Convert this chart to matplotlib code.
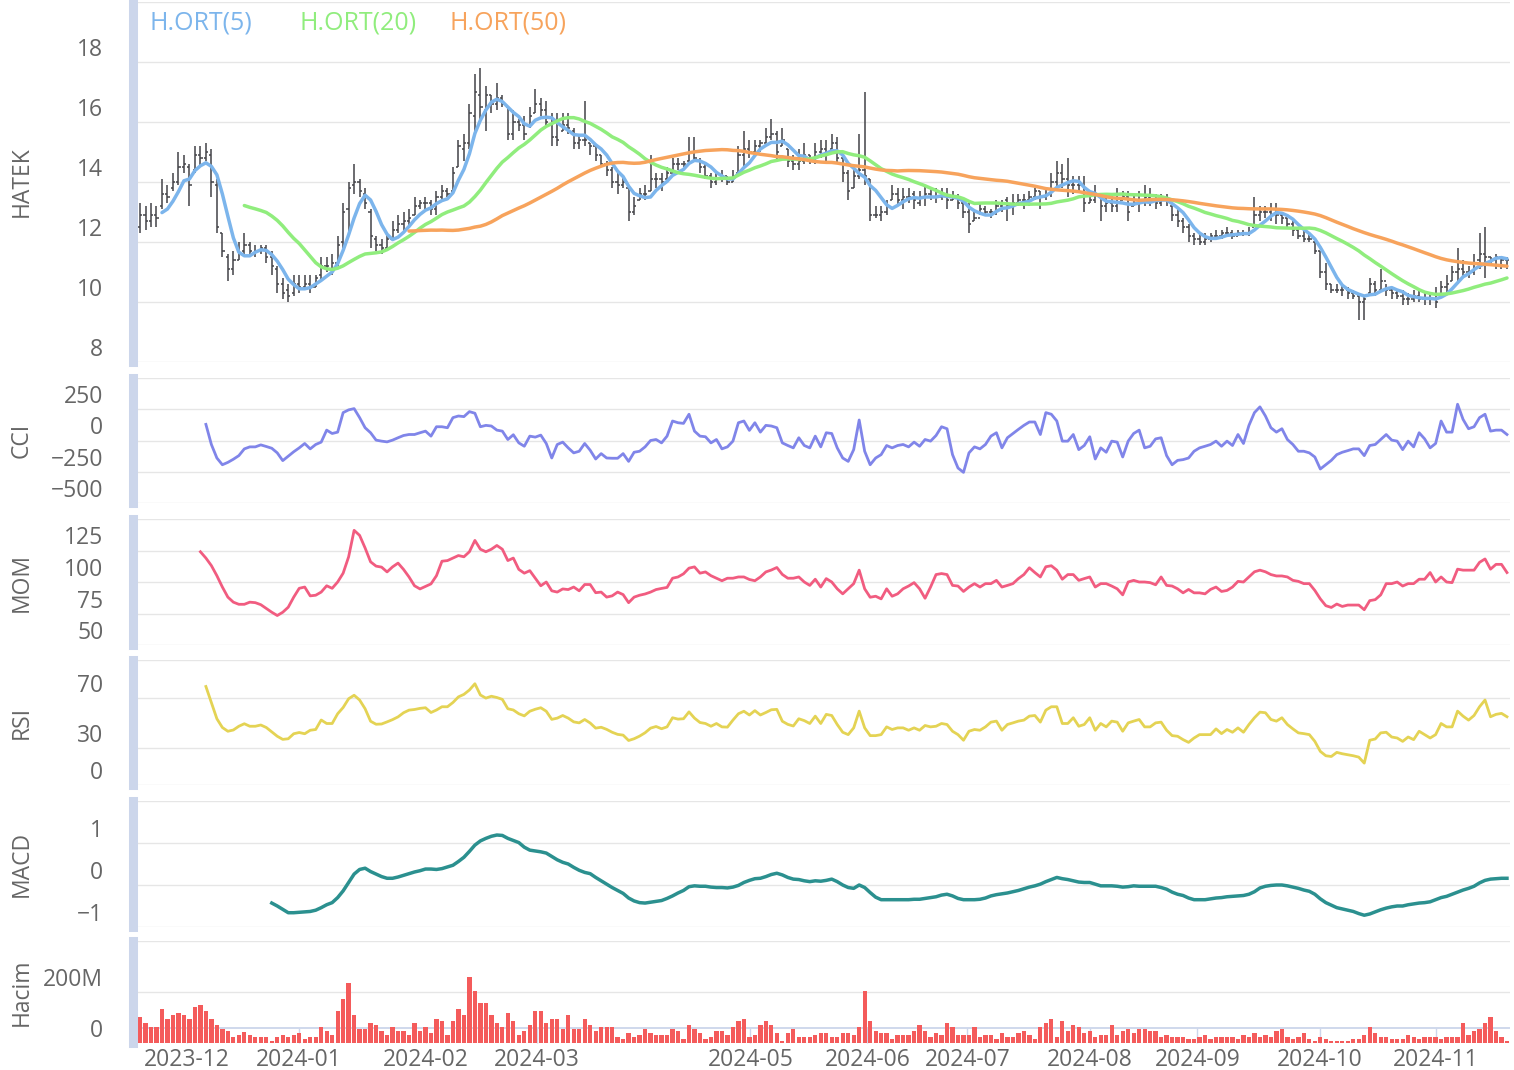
import numpy as np
import pandas as pd
import matplotlib
matplotlib.use('Agg')
import matplotlib.pyplot as plt

plt.rcParams['font.family'] = ['Open Sans', 'DejaVu Sans']

# ---- daily OHLC, index 0 = first trading day shown (late Nov 2023) ----
opens = [
    12.5, 12.9, 12.7, 12.9, 13.2, 13.6, 13.8, 14.0, 14.5, 14.5,
    14.4, 14.9, 14.8, 14.9, 13.9, 12.3, 11.5, 11.1, 11.4, 11.7,
    11.9, 11.6, 11.7, 11.8, 11.5, 11.1, 10.6, 10.4, 10.3, 10.6,
    10.5, 10.6, 10.5, 10.9, 11.2, 11.1, 11.3, 12.0, 13.1, 13.9,
    14.0, 13.6, 13.0, 12.1, 11.9, 11.8, 12.1, 12.4, 12.6, 12.7,
    12.9, 13.2, 13.3, 13.3, 13.1, 13.5, 13.7, 13.7, 14.5, 15.1,
    15.3, 16.2, 16.9, 16.4, 16.9, 16.6, 16.8, 16.5, 15.6, 16.0,
    15.9, 15.9, 16.3, 16.6, 16.4, 15.9, 15.5, 15.7, 15.9, 15.7,
    15.3, 15.4, 15.3, 15.2, 14.9, 14.6, 14.4, 14.0, 13.9, 13.8,
    13.0, 13.4, 13.6, 13.7, 14.1, 14.1, 14.1, 14.3, 14.6, 14.6,
    14.7, 15.0, 14.7, 14.5, 14.2, 14.0, 14.1, 14.2, 14.0, 14.3,
    14.9, 15.1, 15.0, 15.2, 15.3, 15.5, 15.6, 15.2, 15.1, 14.7,
    14.6, 14.7, 14.9, 14.8, 15.0, 15.1, 15.1, 15.3, 14.8, 14.3,
    13.8, 14.2, 14.4, 14.1, 12.9, 12.9, 13.0, 13.4, 13.6, 13.4,
    13.5, 13.6, 13.3, 13.5, 13.6, 13.5, 13.5, 13.6, 13.4, 13.5,
    13.3, 13.0, 12.7, 12.8, 13.1, 13.0, 13.0, 13.2, 13.4, 13.2,
    13.3, 13.4, 13.4, 13.5, 13.7, 13.5, 13.6, 14.0, 14.3, 14.1,
    13.9, 13.9, 13.9, 13.3, 13.4, 13.6, 13.2, 13.3, 13.2, 13.4,
    13.5, 13.2, 13.3, 13.4, 13.5, 13.4, 13.3, 13.4, 13.2, 12.9,
    12.7, 12.5, 12.2, 12.1, 12.0, 12.1, 12.2, 12.2, 12.3, 12.3,
    12.2, 12.3, 12.3, 12.5, 12.9, 13.0, 13.0, 13.1, 12.9, 12.8,
    12.6, 12.4, 12.2, 12.1, 12.0, 11.7, 11.0, 10.6, 10.4, 10.4,
    10.4, 10.3, 10.2, 10.0, 10.3, 10.6, 10.4, 10.7, 10.4, 10.3,
    10.2, 10.1, 10.1, 10.2, 10.1, 10.1, 10.1, 10.2, 10.5, 10.7,
    11.0, 11.1, 11.0, 11.0, 11.4, 11.6, 11.5, 11.4, 11.5, 11.4,
]
highs = [
    13.3, 13.2, 13.3, 13.2, 14.1, 13.9, 14.3, 15.0, 14.9, 14.6,
    15.2, 15.2, 15.3, 15.1, 14.1, 12.3, 11.6, 11.7, 12.0, 12.3,
    12.0, 11.9, 11.9, 11.9, 11.7, 11.2, 10.8, 10.6, 10.9, 10.9,
    10.9, 10.9, 10.9, 11.5, 11.5, 11.6, 12.2, 13.3, 14.0, 14.6,
    14.1, 13.8, 13.1, 12.2, 12.1, 12.3, 12.7, 12.9, 13.0, 13.1,
    13.5, 13.4, 13.5, 13.4, 13.7, 13.9, 13.8, 14.5, 15.4, 15.6,
    16.6, 17.6, 17.8, 17.2, 16.9, 17.3, 16.9, 16.5, 16.4, 16.1,
    16.2, 16.5, 17.1, 16.8, 16.7, 16.3, 16.3, 16.3, 16.3, 15.8,
    15.6, 16.7, 15.3, 15.2, 14.9, 14.7, 14.5, 14.4, 14.2, 13.8,
    13.5, 13.8, 13.9, 14.9, 14.3, 14.3, 14.5, 14.8, 14.8, 14.7,
    15.5, 15.5, 14.8, 14.6, 14.3, 14.3, 14.4, 14.2, 14.4, 15.2,
    15.7, 15.4, 15.4, 15.4, 15.8, 16.1, 15.7, 15.8, 15.1, 14.9,
    15.1, 15.3, 14.9, 15.3, 15.4, 15.4, 15.6, 15.5, 14.9, 14.4,
    14.4, 15.6, 17.0, 14.1, 13.2, 13.2, 13.4, 13.9, 13.8, 13.8,
    13.8, 13.7, 13.7, 13.9, 13.8, 13.8, 13.8, 13.8, 13.7, 13.6,
    13.4, 13.3, 13.1, 13.3, 13.2, 13.1, 13.4, 13.4, 13.5, 13.6,
    13.6, 13.6, 13.7, 13.8, 13.7, 13.8, 14.3, 14.7, 14.6, 14.8,
    14.2, 14.2, 14.2, 13.6, 13.9, 13.6, 13.6, 13.6, 13.8, 13.7,
    13.7, 13.6, 13.7, 13.9, 13.8, 13.6, 13.6, 13.6, 13.2, 13.1,
    12.8, 12.6, 12.3, 12.3, 12.3, 12.3, 12.4, 12.4, 12.5, 12.4,
    12.4, 12.4, 12.5, 13.5, 13.2, 13.2, 13.3, 13.3, 12.9, 12.8,
    12.7, 12.5, 12.5, 12.3, 12.1, 11.7, 11.3, 10.6, 10.6, 10.6,
    10.5, 10.4, 10.2, 10.2, 10.8, 10.7, 11.1, 10.6, 10.5, 10.4,
    10.4, 10.3, 10.4, 10.4, 10.3, 10.3, 10.5, 10.7, 10.9, 11.2,
    11.8, 11.4, 11.2, 11.6, 12.3, 12.5, 11.5, 11.6, 11.5, 11.5,
]
lows = [
    12.3, 12.4, 12.5, 12.5, 13.1, 13.3, 13.7, 13.9, 14.3, 13.2,
    14.3, 14.5, 14.7, 13.5, 12.3, 11.5, 10.7, 10.9, 11.4, 11.6,
    11.5, 11.5, 11.6, 11.3, 10.9, 10.3, 10.1, 10.0, 10.2, 10.3,
    10.4, 10.3, 10.5, 10.7, 11.0, 10.9, 11.2, 11.8, 12.2, 13.6,
    13.5, 13.1, 11.8, 11.7, 11.6, 11.7, 12.1, 12.3, 12.3, 12.5,
    12.9, 13.1, 13.1, 12.9, 12.9, 13.4, 13.5, 13.7, 14.5, 14.7,
    15.1, 15.7, 16.1, 15.7, 16.3, 16.4, 16.5, 15.4, 15.4, 15.7,
    15.4, 15.8, 16.3, 16.2, 15.8, 15.2, 15.2, 15.7, 15.6, 15.1,
    15.1, 15.2, 14.9, 14.7, 14.5, 14.2, 13.8, 13.6, 13.8, 12.7,
    12.9, 13.4, 13.4, 13.7, 13.8, 13.7, 14.1, 14.3, 14.4, 14.5,
    14.6, 14.7, 14.3, 14.1, 13.8, 13.9, 14.0, 13.9, 14.0, 14.2,
    14.5, 14.8, 14.9, 15.0, 15.3, 15.4, 14.7, 15.2, 14.5, 14.4,
    14.4, 14.6, 14.6, 14.6, 14.8, 14.7, 15.1, 14.6, 14.0, 13.4,
    13.8, 14.1, 13.9, 12.7, 12.8, 12.7, 12.9, 13.4, 13.2, 13.1,
    13.3, 13.1, 13.2, 13.2, 13.4, 13.3, 13.4, 13.1, 13.4, 13.1,
    12.8, 12.3, 12.7, 12.9, 12.9, 12.8, 12.9, 13.0, 12.7, 12.9,
    13.2, 13.1, 13.2, 13.4, 13.1, 13.4, 13.5, 13.8, 13.8, 13.5,
    13.6, 13.7, 13.0, 13.3, 13.3, 12.7, 13.0, 13.0, 13.0, 13.4,
    12.7, 13.2, 13.0, 13.2, 13.2, 13.1, 13.2, 13.2, 12.7, 12.5,
    12.3, 12.0, 11.9, 11.9, 11.9, 12.0, 12.1, 12.1, 12.2, 12.1,
    12.2, 12.2, 12.2, 12.5, 12.7, 12.8, 12.7, 12.6, 12.6, 12.5,
    12.2, 12.1, 12.0, 12.0, 11.6, 10.8, 10.4, 10.3, 10.3, 10.2,
    10.1, 10.1, 9.4, 9.4, 10.3, 10.2, 10.4, 10.2, 10.1, 10.1,
    9.9, 9.9, 10.0, 10.0, 9.9, 9.9, 9.8, 10.2, 10.3, 10.7,
    10.6, 10.8, 10.8, 10.9, 11.1, 10.8, 11.2, 11.1, 11.1, 11.1,
]
closes = [
    12.9, 12.7, 12.9, 12.8, 13.6, 13.5, 14.0, 14.5, 14.6, 13.9,
    14.9, 14.8, 15.0, 14.0, 12.5, 11.7, 11.1, 11.4, 11.6, 11.9,
    11.7, 11.7, 11.8, 11.5, 11.2, 10.6, 10.3, 10.2, 10.6, 10.5,
    10.6, 10.5, 10.8, 11.2, 11.2, 11.3, 11.9, 13.0, 13.8, 14.0,
    13.7, 13.3, 12.2, 11.9, 11.8, 12.1, 12.4, 12.6, 12.7, 12.8,
    13.2, 13.3, 13.3, 13.1, 13.5, 13.7, 13.6, 14.3, 15.2, 15.3,
    16.3, 17.0, 16.5, 16.9, 16.6, 16.8, 16.6, 15.6, 16.0, 15.9,
    15.6, 16.2, 16.6, 16.4, 16.0, 15.5, 15.4, 15.9, 15.8, 15.3,
    15.4, 15.4, 15.2, 14.9, 14.6, 14.4, 14.0, 13.9, 14.0, 13.0,
    13.2, 13.6, 13.6, 14.1, 14.1, 14.0, 14.3, 14.6, 14.6, 14.6,
    15.0, 14.8, 14.5, 14.2, 14.0, 14.1, 14.2, 14.0, 14.2, 14.9,
    15.1, 15.0, 15.2, 15.3, 15.5, 15.6, 15.0, 15.4, 14.7, 14.6,
    14.7, 14.9, 14.8, 15.0, 15.1, 15.0, 15.3, 14.8, 14.3, 13.7,
    14.2, 14.4, 14.2, 12.9, 12.9, 13.0, 13.2, 13.6, 13.4, 13.5,
    13.5, 13.4, 13.5, 13.6, 13.5, 13.5, 13.6, 13.4, 13.5, 13.3,
    13.0, 12.6, 12.8, 13.1, 13.0, 13.0, 13.2, 13.3, 13.2, 13.3,
    13.4, 13.4, 13.5, 13.7, 13.5, 13.6, 14.0, 14.3, 14.1, 13.9,
    13.9, 13.9, 13.3, 13.4, 13.6, 13.2, 13.3, 13.2, 13.3, 13.5,
    13.0, 13.3, 13.4, 13.5, 13.4, 13.3, 13.4, 13.4, 12.9, 12.7,
    12.5, 12.2, 12.1, 12.0, 12.1, 12.2, 12.2, 12.3, 12.3, 12.2,
    12.3, 12.3, 12.3, 12.9, 13.0, 13.0, 13.1, 12.9, 12.8, 12.6,
    12.4, 12.2, 12.1, 12.1, 11.7, 11.0, 10.6, 10.4, 10.4, 10.4,
    10.3, 10.2, 10.0, 10.1, 10.6, 10.4, 10.7, 10.4, 10.3, 10.2,
    10.1, 10.1, 10.2, 10.1, 10.1, 10.1, 10.0, 10.5, 10.6, 11.0,
    11.1, 11.0, 11.0, 11.3, 11.6, 11.5, 11.4, 11.5, 11.4, 11.4,
]
# volume in millions
volume_m = [
    103, 77, 64, 64, 133, 94, 110, 116, 110, 94,
    142, 149, 125, 94, 71, 55, 47, 25, 31, 44,
    31, 25, 25, 25, 8, 25, 31, 25, 31, 38,
    16, 25, 25, 63, 47, 31, 125, 173, 235, 110,
    55, 55, 77, 71, 47, 31, 63, 47, 47, 31,
    78, 47, 63, 39, 94, 86, 31, 86, 133, 110,
    259, 204, 157, 157, 110, 78, 63, 118, 86, 31,
    47, 71, 125, 125, 78, 94, 94, 55, 110, 55,
    55, 94, 71, 47, 63, 63, 63, 24, 16, 39,
    24, 31, 55, 39, 31, 31, 31, 55, 47, 16,
    71, 55, 39, 16, 24, 47, 47, 31, 63, 86,
    94, 24, 31, 71, 86, 71, 39, 8, 39, 55,
    24, 24, 24, 31, 38, 38, 25, 25, 38, 38,
    31, 64, 204, 86, 47, 38, 38, 16, 31, 31,
    31, 47, 71, 47, 25, 38, 31, 78, 63, 31,
    31, 31, 63, 25, 31, 31, 16, 38, 25, 25,
    38, 47, 31, 16, 63, 78, 94, 25, 86, 47,
    71, 63, 38, 47, 25, 31, 31, 71, 31, 47,
    55, 38, 55, 55, 47, 47, 25, 31, 25, 25,
    25, 16, 16, 25, 31, 16, 25, 25, 25, 25,
    16, 31, 25, 38, 25, 31, 25, 47, 55, 25,
    16, 25, 38, 16, 8, 25, 16, 8, 8, 8,
    8, 16, 16, 31, 63, 38, 25, 25, 16, 16,
    16, 31, 25, 16, 25, 25, 25, 16, 25, 25,
    25, 78, 31, 47, 55, 78, 103, 47, 25, 8,
]

# ---- indicators (first value sits at the given day index) ----
cci_start = 12
cci_vals = [
    129, -32, -140, -194, -175, -150, -121, -67, -51, -51,
    -35, -48, -62, -99, -161, -126, -90, -59, -24, -67,
    -32, -13, 83, 56, 67, 223, 245, 255, 183, 102,
    62, 3, -5, -11, 3, 22, 40, 48, 48, 62,
    75, 35, 110, 110, 102, 183, 196, 191, 231, 218,
    110, 121, 116, 83, 75, 8, 46, -19, -46, 35,
    27, 43, -24, -140, -32, -13, -59, -99, -86, -24,
    -78, -148, -105, -140, -142, -142, -105, -167, -94, -86,
    -51, 0, 8, -19, 35, 156, 142, 137, 210, 75,
    35, 30, -19, 8, -67, -51, -5, 142, 156, 81,
    142, 67, 121, 116, 102, -19, -40, -59, 22, -40,
    -59, 35, -51, 62, 56, -59, -140, -167, -73, 164,
    -86, -194, -140, -113, -40, -59, -40, -32, -51, -13,
    -46, 8, -5, 40, 110, 94, -113, -220, -255, -99,
    -51, -67, -32, 35, 62, -59, 22, 56, 89, 121,
    148, 148, 48, 223, 210, 156, -5, -5, 48, -73,
    -40, 30, -148, -59, -94, -5, -13, -132, -5, 56,
    83, -59, -46, 13, 22, -121, -194, -159, -153, -140,
    -86, -59, -46, -32, -5, -46, -5, -40, 48, -24,
    121, 223, 269, 196, 102, 67, 94, 8, -32, -86,
    -86, -99, -132, -228, -194, -159, -113, -94, -81, -67,
    -67, -121, -40, -32, 8, 48, 3, -5, -73, -5,
    -51, 62, 13, -59, -24, 156, 67, 67, 290, 169,
    94, 110, 183, 210, 75, 83, 83, 48,
]
mom_start = 11
mom_vals = [
    124, 119, 113, 105, 96, 88, 84, 82.3, 82.3, 84,
    83.6, 82, 79, 76, 73.4, 76, 80, 88, 95, 96,
    89, 89.5, 92, 97, 95, 100, 107, 120, 141, 137,
    127, 116, 112.6, 111.8, 108, 112, 115, 110, 104, 97,
    94.5, 96.5, 98.5, 105, 116.5, 117, 119, 121, 120, 124,
    133, 126, 124, 126, 129, 126, 117, 119, 110, 107,
    109, 103, 97, 100, 93, 92, 94.5, 94, 96, 93,
    98, 98, 91.5, 92, 88, 89, 92, 90, 83.6, 88,
    89.5, 90.5, 92, 94, 94.9, 95.7, 103, 104, 106.5, 111,
    112, 107, 108, 105, 103, 101, 103, 103, 104, 104,
    102, 101, 104, 108, 109.5, 111.5, 106, 103, 103, 104, 100,
    97.3, 102.2, 96, 102.7, 100, 94.6, 90.6, 94.6, 98.7, 109.4,
    94.6, 87.9, 88.7, 86.6, 94.6, 88.7, 90.6, 94.6, 96.8, 99.5,
    94.6, 87.1, 96, 105.9, 106.7, 105.9, 97.3, 96.8, 92.5, 96,
    98.7, 96, 98.7, 98.7, 101.3, 96, 97.3, 98.7, 102.7, 105.9,
    111.3, 107.5, 104, 112.1, 112.9, 109.4, 102.2, 105.9, 105.9, 101.3,
    102.7, 104, 96, 98.7, 98.7, 96.8, 94.6, 89.8, 100, 101.3,
    100, 100, 99.5, 97.8, 104, 97.3, 96.8, 94.6, 91.4, 94.1,
    91.4, 91.4, 90.6, 94.1, 96, 92.5, 93.3, 96, 100.5, 100,
    104, 108.1, 109.4, 108.1, 105.9, 104.8, 104.8, 104, 101.3, 100.5,
    98.7, 98.7, 93.3, 86.6, 81.2, 79.8, 82.5, 80.6, 81.7, 81.7,
    81.7, 78, 85.2, 86, 89.8, 98.7, 98.7, 100, 96.8, 98.7,
    98.7, 102.2, 102.2, 107.5, 100, 104, 100, 99.5, 110.2, 109.4,
    109.4, 109.4, 115.6, 118.3, 110.2, 114, 114, 107.5,
]
rsi_start = 12
rsi_vals = [
    78.8, 66, 53, 46, 43, 44, 47, 49, 47, 47,
    48, 46, 42.5, 39, 36.5, 37, 41, 42, 41, 43.8,
    44.4, 52, 49.2, 49.2, 57, 62, 69, 71.8, 68, 61,
    51, 48.6, 48.8, 50.5, 52.3, 54.5, 57.8, 59.9, 60.4, 61.3,
    61.8, 58, 60, 62.6, 62.6, 66, 70.5, 72.5, 76, 81,
    72, 69.5, 71, 70, 68.5, 61, 60, 57, 55.3, 59,
    60.6, 61.8, 59, 52.5, 53.5, 55.6, 53.5, 50.5, 49.7, 52.4,
    49.6, 45.5, 46.2, 44.5, 42.2, 40.5, 39.9, 35.6, 37, 39.1,
    41.8, 45.5, 46.8, 45, 46.5, 53.8, 52.7, 53, 58.5, 53.5,
    50, 49.2, 47, 49.2, 46.5, 46.3, 51.9, 57, 59, 56,
    59.5, 56, 58, 60.2, 60.5, 51, 48.5, 47.2, 53, 51.5,
    49.2, 55.1, 49.2, 56.5, 55.6, 48.4, 42.2, 40.3, 45.7, 59.1,
    45.7, 39.5, 39.5, 40.3, 46.5, 44.4, 45.7, 45.7, 43.8, 45.7,
    43.8, 47.6, 46.5, 47, 49.2, 48.4, 43, 40.3, 35.8, 43,
    44.4, 43.8, 46.5, 50.3, 51.1, 43.8, 48.4, 49.7, 51.1, 51.9,
    55.1, 55.6, 50.3, 59.9, 62.6, 62.6, 49.2, 49.2, 53.8, 47,
    48.4, 53.8, 43.8, 49.2, 46.5, 51.1, 50.3, 43, 49.7, 51.1,
    52.4, 46.5, 46.5, 49.7, 50.3, 43.8, 39.5, 39, 36.3, 34.1,
    37.6, 40.3, 40.3, 40.3, 44.9, 41.1, 44.4, 42.2, 45.7, 42.2,
    48.4, 53.8, 58.3, 57.8, 52.4, 51.1, 53.8, 48.4, 44.9, 41.7,
    41.1, 40.3, 34.9, 26.9, 23.4, 22.8, 26.1, 25, 24.2, 23.4,
    22.3, 17.5, 35.8, 36.8, 41.7, 42.2, 38.4, 37.6, 34.9, 38.4,
    36.3, 43, 40.3, 37.6, 40.3, 49.2, 46.5, 46.5, 59.1, 55.1,
    51.9, 55.6, 62.6, 68, 54.6, 56.5, 57.3, 54.6,
]
macd_start = 24
macd_vals = [
    -0.43, -0.5, -0.58, -0.66, -0.66, -0.65, -0.64, -0.63, -0.6, -0.54,
    -0.47, -0.42, -0.3, -0.14, 0.06, 0.26, 0.37, 0.4, 0.32, 0.26,
    0.2, 0.16, 0.16, 0.19, 0.23, 0.27, 0.31, 0.34, 0.38, 0.38,
    0.37, 0.39, 0.43, 0.47, 0.56, 0.66, 0.8, 0.95, 1.05, 1.11,
    1.16, 1.19, 1.18, 1.11, 1.06, 1.01, 0.9, 0.83, 0.81, 0.79,
    0.76, 0.68, 0.6, 0.54, 0.5, 0.42, 0.35, 0.3, 0.27, 0.18,
    0.1, 0.02, -0.06, -0.13, -0.2, -0.31, -0.38, -0.42, -0.43, -0.41,
    -0.39, -0.37, -0.32, -0.26, -0.19, -0.13, -0.04, -0.02, -0.03, -0.03,
    -0.05, -0.06, -0.06, -0.07, -0.05, -0.01, 0.06, 0.11, 0.15, 0.16,
    0.2, 0.25, 0.28, 0.24, 0.18, 0.14, 0.13, 0.1,
    0.08, 0.1, 0.09, 0.11, 0.14, 0.08, 0.0, -0.06, -0.08, 0.0,
    -0.06, -0.18, -0.29, -0.35, -0.35, -0.35, -0.35, -0.35, -0.35, -0.34,
    -0.34, -0.32, -0.3, -0.28, -0.24, -0.22, -0.26, -0.32, -0.35, -0.35,
    -0.35, -0.34, -0.31, -0.26, -0.23, -0.21, -0.19, -0.16, -0.13, -0.09,
    -0.05, -0.02, 0.02, 0.08, 0.13, 0.18, 0.15, 0.13, 0.1, 0.07,
    0.06, 0.06, 0.02, -0.02, -0.02, -0.02, -0.03, -0.05, -0.04, -0.02,
    -0.03, -0.03, -0.03, -0.03, -0.06, -0.1, -0.17, -0.22, -0.25, -0.31,
    -0.35, -0.35, -0.35, -0.33, -0.31, -0.3, -0.28, -0.27, -0.26, -0.25,
    -0.22, -0.16, -0.07, -0.03, -0.01, 0.0, 0.0, -0.02, -0.05, -0.08,
    -0.12, -0.15, -0.22, -0.33, -0.42, -0.48, -0.54, -0.57, -0.6, -0.63,
    -0.68, -0.72, -0.69, -0.64, -0.59, -0.55, -0.52, -0.5, -0.5, -0.47,
    -0.45, -0.43, -0.42, -0.4, -0.35, -0.3, -0.27, -0.22, -0.17, -0.12,
    -0.08, -0.03, 0.05, 0.11, 0.14, 0.15, 0.16, 0.16,
]

month_pos = [8.5, 29.0, 52.1, 72.3, 111.2, 132.5, 150.7, 173.0, 192.6, 214.9, 236.0]
month_labels = ['2023-12', '2024-01', '2024-02', '2024-03', '2024-05', '2024-06',
                '2024-07', '2024-08', '2024-09', '2024-10', '2024-11']

ma_windows = [5, 20, 50]
ma_names = ['H.ORT(5)', 'H.ORT(20)', 'H.ORT(50)']
ma_colors = ['#7cb5ec', '#90ed7d', '#f7a35c']

TEXT = '#666666'
GRID = '#e6e6e6'
HANDLE = '#ccd6eb'
FS = 16.5
W, H = 1514, 1070
LEFT, RIGHT = 137, 1510

fig = plt.figure(figsize=(W / 100, H / 100), dpi=100)


def add_panel(top, bottom, share=None):
    return fig.add_axes([LEFT / W, 1 - bottom / H, (RIGHT - LEFT) / W, (bottom - top) / H],
                        sharex=share)


def style(ax, title, ticks, labels):
    ax.set_ylim(ticks[0], ticks[-1])
    ax.set_yticks(ticks)
    ax.set_yticklabels(labels)
    ax.yaxis.grid(True, color=GRID, lw=1.0)
    ax.set_axisbelow(True)
    for s in ['top', 'right', 'bottom']:
        ax.spines[s].set_visible(False)
    ax.spines['left'].set_color(HANDLE)
    ax.spines['left'].set_linewidth(6.5)
    ax.spines['left'].set_position(('outward', 3.24))
    ax.tick_params(axis='y', length=0, pad=21, labelsize=FS, labelcolor=TEXT)
    ax.text(-0.0838, 0.5, title, transform=ax.transAxes, rotation=90,
            ha='center', va='center', fontsize=FS, color=TEXT)


ax_p = add_panel(2, 362)
ax_cci = add_panel(378, 503, ax_p)
ax_mom = add_panel(519, 645, ax_p)
ax_rsi = add_panel(660, 785, ax_p)
ax_macd = add_panel(801, 927, ax_p)
ax_v = add_panel(941, 1043, ax_p)
axes = [ax_p, ax_cci, ax_mom, ax_rsi, ax_macd, ax_v]

x = np.arange(len(closes))

# price: OHLC bars + moving averages
ax_p.vlines(x, lows, highs, color='#434348', lw=1.1, zorder=2)
ax_p.hlines(opens, x - 0.4, x, color='#434348', lw=1.1, zorder=2)
ax_p.hlines(closes, x, x + 0.4, color='#434348', lw=1.1, zorder=2)
close_s = pd.Series(closes)
for w, c in zip(ma_windows, ma_colors):
    ax_p.plot(x, close_s.rolling(w).mean(), color=c, lw=2.5,
              solid_capstyle='round', solid_joinstyle='round', zorder=3)
style(ax_p, 'HATEK', [8, 10, 12, 14, 16, 18, 20], ['8', '10', '12', '14', '16', '18', ''])

for name, c, px in zip(ma_names, ma_colors, [150, 300, 450]):
    fig.text(px / W, 1 - 23 / H, name, color=c, fontsize=18, ha='left', va='center')


def plot_ind(ax, start, vals, color, lw):
    xi = np.arange(start, start + len(vals))
    ax.plot(xi, vals, color=color, lw=lw, solid_joinstyle='round', zorder=3)


plot_ind(ax_cci, cci_start, cci_vals, '#8085e9', 2.0)
style(ax_cci, 'CCI', [-500, -250, 0, 250, 500], ['\u2212500', '\u2212250', '0', '250', ''])

plot_ind(ax_mom, mom_start, mom_vals, '#f15c80', 2.0)
style(ax_mom, 'MOM', [50, 75, 100, 125, 150], ['50', '75', '100', '125', ''])

plot_ind(ax_rsi, rsi_start, rsi_vals, '#e4d354', 2.0)
style(ax_rsi, 'RSI', [0, 30, 70, 100], ['0', '30', '70', ''])

plot_ind(ax_macd, macd_start, macd_vals, '#2b908f', 2.5)
style(ax_macd, 'MACD', [-1, 0, 1, 2], ['\u22121', '0', '1', ''])

# volume
ax_v.bar(x, volume_m, width=0.78, color='#f45b5b', linewidth=0, zorder=2)
ax_v.plot([0, 1], [0.147, 0.147], transform=ax_v.transAxes, color=HANDLE, lw=1.3, zorder=1)
style(ax_v, 'Hacim', [0, 200, 400], ['0', '200M', ''])

ax_p.set_xlim(-0.55, 249.55)
for ax in axes[:-1]:
    ax.tick_params(axis='x', bottom=False, labelbottom=False)
ax_v.set_xticks(month_pos)
ax_v.set_xticklabels(month_labels)
ax_v.tick_params(axis='x', direction='in', length=10.8, width=1.0, color=HANDLE,
                 pad=3.5, labelsize=FS, labelcolor=TEXT)

# labels sit just above their grid lines
for ax in axes:
    for lbl in ax.get_yticklabels():
        lbl.set_verticalalignment('bottom')

fig.savefig('out.png', dpi=100)
